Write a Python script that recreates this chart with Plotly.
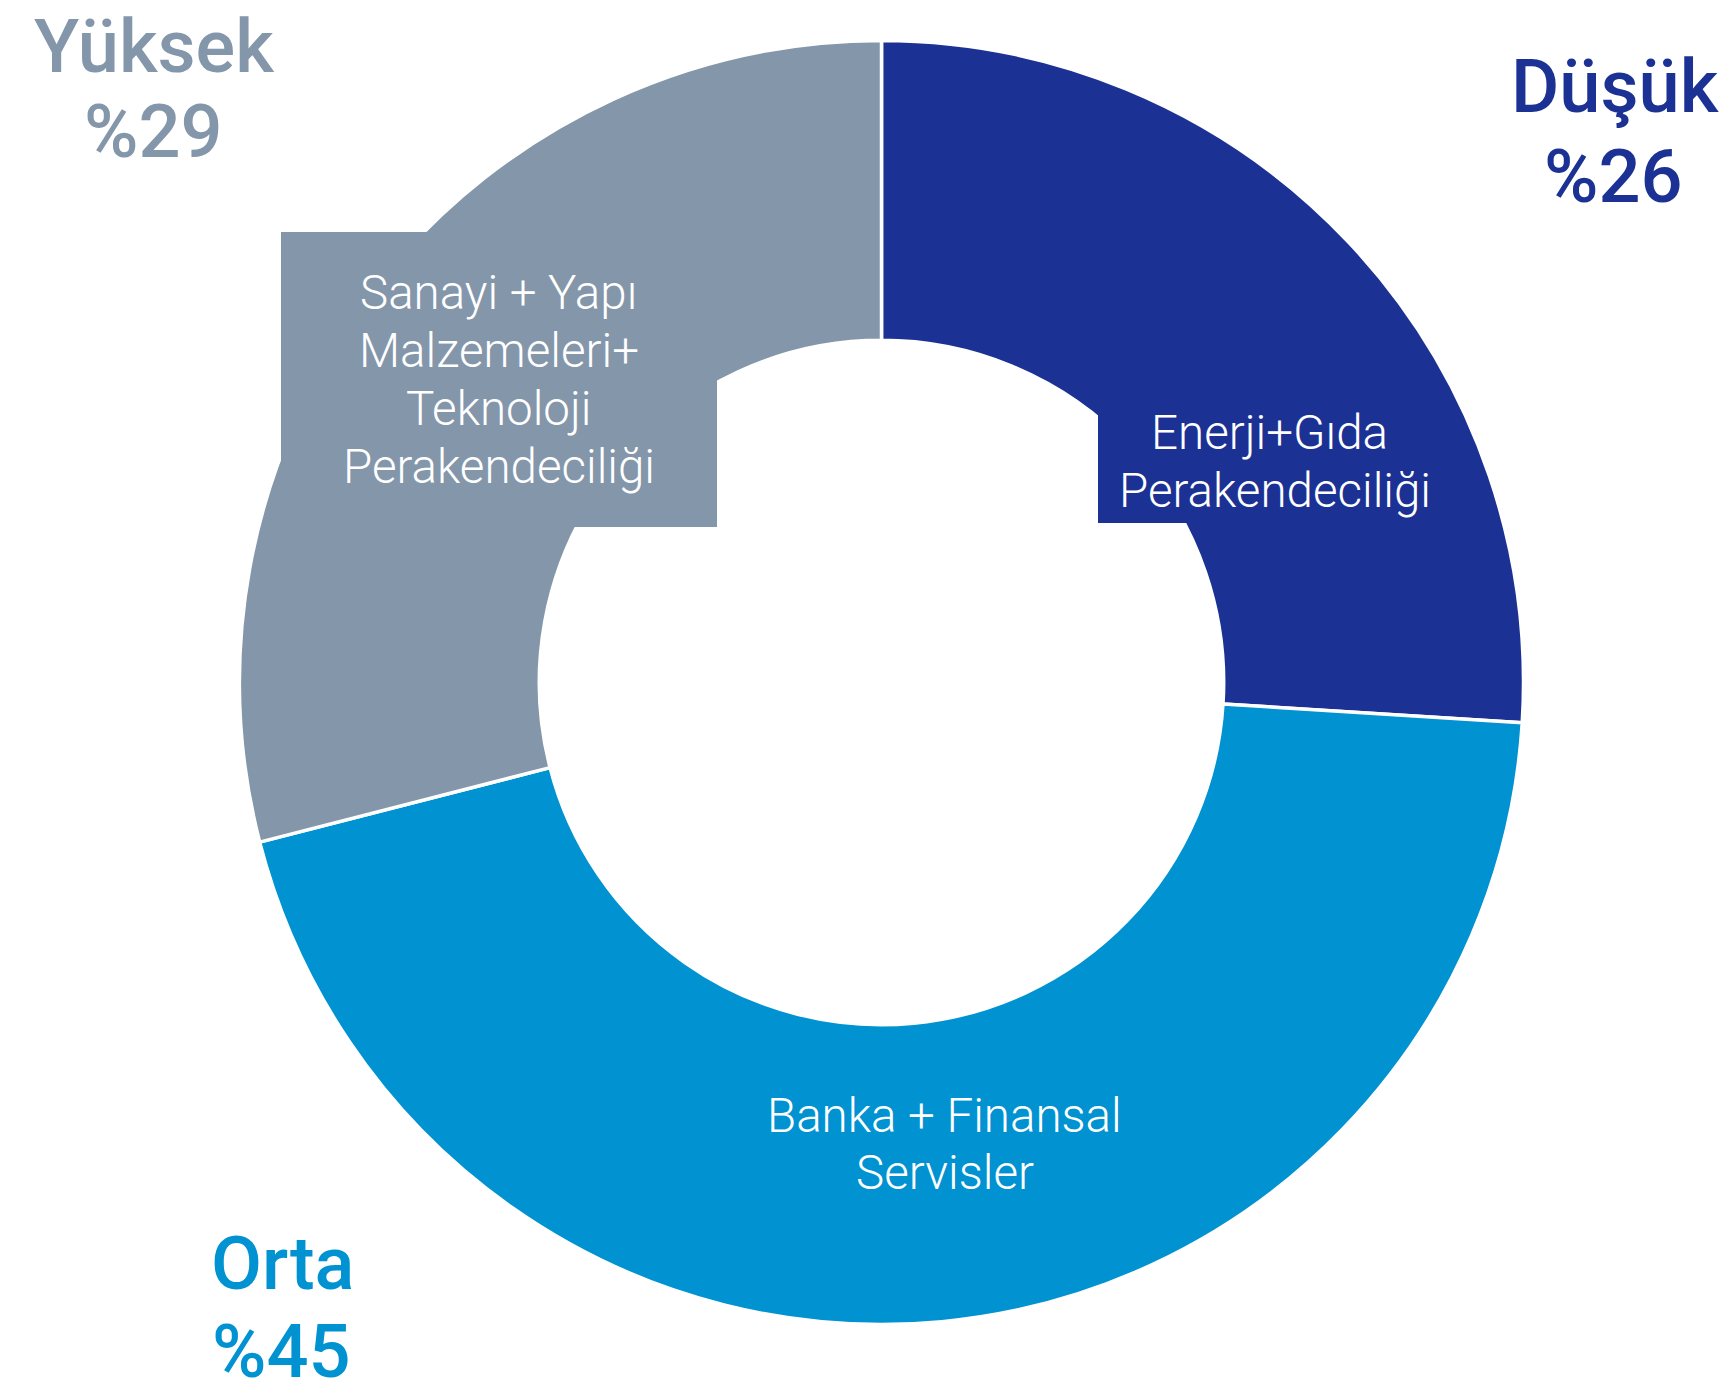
import plotly.graph_objects as go

# ---- data ----
levels = ["Düşük", "Orta", "Yüksek"]
shares = [26, 45, 29]
sectors = [
    "Enerji+Gıda\u00a0<br>Perakendeciliği",
    "Banka + Finansal<br>Servisler",
    "Sanayi + Yapı<br>Malzemeleri+<br>Teknoloji<br>Perakendeciliği",
]
colors = ["#1B3294", "#0092D1", "#8496AA"]

W, H = 1731, 1392
OFF = 8  # page body margin
CX, CY, R = 881.5, 682.5, 642.0
LINE = 57.7


def px(x):
    return (x - OFF) / W


def py(y):
    return 1 - (y - OFF) / H


fig = go.Figure(
    go.Pie(
        labels=levels,
        values=shares,
        sort=False,
        direction="clockwise",
        rotation=0,
        hole=0.533,
        marker=dict(colors=colors, line=dict(color="white", width=3.5)),
        textinfo="none",
        hoverinfo="label+percent",
        showlegend=False,
        domain=dict(x=[px(CX - R), px(CX + R)], y=[py(CY + R), py(CY - R)]),
    )
)

annotations = []

# inner sector labels (with colored background boxes)
inner = [
    dict(i=0, x=1275, y=462, w=354, h=122, box=True),
    dict(i=1, x=945, y=1144.5, w=None, h=None, box=False),
    dict(i=2, x=499, y=380, w=436, h=295, box=True),
]
for d in inner:
    i = d["i"]
    if d["box"]:
        annotations.append(dict(
            x=px(d["x"]), y=py(d["y"]), xref="paper", yref="paper",
            xanchor="center", yanchor="middle", showarrow=False,
            text=" ", bgcolor=colors[i], width=d["w"], height=d["h"],
            borderpad=0, borderwidth=0,
            font=dict(family="Roboto", size=10, color=colors[i]),
        ))
    lines = sectors[i].split("<br>")
    n = len(lines)
    for k, line in enumerate(lines):
        yk = d["y"] + (k - (n - 1) / 2) * LINE
        annotations.append(dict(
            x=px(d["x"]), y=py(yk), xref="paper", yref="paper",
            xanchor="center", yanchor="middle", showarrow=False,
            text=line,
            font=dict(family="Roboto", size=47.5, color="white", weight=300),
        ))

# outer level labels
outer = [
    dict(i=0, x1=1615, y1=86.3, x2=1613.5, y2=176.7),
    dict(i=1, x1=282, y1=1263.7, x2=281.5, y2=1351.3),
    dict(i=2, x1=154, y1=46.5, x2=153.5, y2=132),
]
for d in outer:
    i = d["i"]
    for txt, x, y in [(levels[i], d["x1"], d["y1"]), (f"%{shares[i]}", d["x2"], d["y2"])]:
        annotations.append(dict(
            x=px(x), y=py(y), xref="paper", yref="paper",
            xanchor="center", yanchor="middle", showarrow=False,
            text=txt,
            font=dict(family="Roboto", size=74, color=colors[i], weight=500),
        ))

fig.update_layout(
    width=W, height=H,
    margin=dict(l=0, r=0, t=0, b=0),
    paper_bgcolor="white", plot_bgcolor="white",
    annotations=annotations,
)

fig.write_html("out.html")
